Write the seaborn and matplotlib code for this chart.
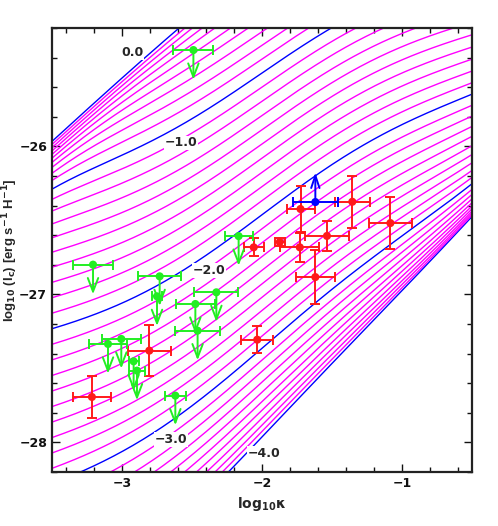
import numpy as np
import pandas as pd
import matplotlib
matplotlib.use("Agg")
import matplotlib.pyplot as plt
from matplotlib.ticker import MultipleLocator
import seaborn as sns

# contour levels: log10 of the star formation rate per unit area
psi_levels = np.round(np.linspace(0.0, -4.0, 41), 1)
label_levels = ["0.0", "\u22121.0", "\u22122.0", "\u22123.0", "\u22124.0"]
label_x = [-2.926, -2.577, -2.376, -2.650, -1.982]
label_y = [-25.367, -25.977, -26.838, -27.982, -28.076]

# red: detections
red_x = [-3.215, -2.805, -2.034, -2.059, -1.873, -1.725, -1.730, -1.536, -1.619, -1.355, -1.083]
red_xerr = [0.133, 0.155, 0.113, 0.07, 0.035, 0.10, 0.14, 0.156, 0.14, 0.125, 0.156]
red_y = [-27.693, -27.380, -27.306, -26.682, -26.646, -26.423, -26.682, -26.605, -26.883, -26.374, -26.518]
red_yerr = [0.145, 0.17, 0.093, 0.06, 0.03, 0.157, 0.10, 0.10, 0.18, 0.177, 0.174]

# green: upper limits
green_x = [-2.490, -3.207, -2.731, -2.750, -2.326, -2.476, -2.460, -3.100, -3.005, -2.917, -2.893, -2.619, -2.167]
green_xerr = [0.143, 0.143, 0.155, 0.035, 0.157, 0.14, 0.16, 0.136, 0.14, 0.036, 0.057, 0.073, 0.10]
green_y = [-25.349, -26.799, -26.878, -27.013, -26.986, -27.065, -27.245, -27.335, -27.301, -27.452, -27.515, -27.684, -26.606]

# blue: lower limit
blue_x = [-1.619]
blue_xerr = [0.162]
blue_y = [-26.376]

limit_len = 0.2

# model parameters for the l_c(kappa, psi) curves
y_m2_left = -27.232
slope_base, bump_amp, bump_x, bump_w = 0.2, 0.5, -2.0, 1.1
s_left, s_grad = 1.06, 0.06
up_left, up_slope, up_psi = -25.965, 0.87, 0.2
sharp = 2.5
floor_right, floor_slope = -26.52, 1.09

RED = "#ff1a1a"
GREEN = "#22ee22"
BLUE = "#0000ff"
MAGENTA = "#ff00ff"


def model_curve(psi, logk):
    dk = logk - logk[0]
    slope = slope_base + bump_amp * np.exp(-((logk - bump_x) / bump_w) ** 2)
    shape = np.concatenate([[0.0], np.cumsum(0.5 * (slope[1:] + slope[:-1]) * np.diff(logk))])
    s = s_left - s_grad * dk
    lin = y_m2_left + shape + s * (psi + 2)
    upper = up_left + up_slope * dk + up_psi * psi
    sat = -np.log10(10.0 ** (-sharp * lin) + 10.0 ** (-sharp * upper)) / sharp
    floor = floor_right + floor_slope * (logk + 0.5)
    return np.log10(10.0 ** sat + 10.0 ** floor)


logk = np.linspace(-3.5, -0.5, 301)
frames = []
for psi in psi_levels:
    frames.append(pd.DataFrame({"logk": logk, "loglc": model_curve(psi, logk), "psi": psi}))
curves = pd.concat(frames, ignore_index=True)
palette = {p: (BLUE if abs(p - round(p)) < 1e-6 else MAGENTA) for p in psi_levels}

sns.set_style("ticks")
plt.rcParams["font.family"] = ["DejaVu Sans"]
plt.rcParams["font.weight"] = "bold"
plt.rcParams["mathtext.fontset"] = "dejavusans"
plt.rcParams["mathtext.default"] = "bf"

fig = plt.figure(figsize=(4.98, 5.26), dpi=100)
ax = fig.add_axes([52 / 498, 1 - 472 / 526, 420 / 498, 444 / 526])

sns.lineplot(data=curves, x="logk", y="loglc", hue="psi", units="psi", estimator=None,
             palette=palette, legend=False, sort=False, linewidth=1.0, ax=ax, zorder=1)

for txt, lx, ly in zip(label_levels, label_x, label_y):
    ax.text(lx, ly, txt, fontsize=9, fontweight="bold", ha="center", va="center", zorder=3,
            bbox=dict(facecolor="white", edgecolor="none", pad=0.5))

eb = dict(fmt="none", capsize=3.5, elinewidth=1.4, capthick=1.4, zorder=4)
ax.errorbar(red_x, red_y, xerr=red_xerr, yerr=red_yerr, ecolor=RED, **eb)
ax.errorbar(green_x, green_y, xerr=green_xerr, ecolor=GREEN, **eb)
ax.errorbar(blue_x, blue_y, xerr=blue_xerr, ecolor=BLUE, **eb)

for gx, gy in zip(green_x, green_y):
    ax.annotate("", xy=(gx, gy - limit_len), xytext=(gx, gy), zorder=4,
                arrowprops=dict(arrowstyle="->,head_length=0.65,head_width=0.25", color=GREEN,
                                lw=1.4, shrinkA=0, shrinkB=0, mutation_scale=15))
for bx, by in zip(blue_x, blue_y):
    ax.annotate("", xy=(bx, by + limit_len), xytext=(bx, by), zorder=4,
                arrowprops=dict(arrowstyle="->,head_length=0.6,head_width=0.2", color=BLUE,
                                lw=1.4, shrinkA=0, shrinkB=0, mutation_scale=15))

sns.scatterplot(x=red_x, y=red_y, color=RED, s=34, edgecolor="none", ax=ax, zorder=5)
sns.scatterplot(x=green_x, y=green_y, color=GREEN, s=34, edgecolor="none", ax=ax, zorder=5)
sns.scatterplot(x=blue_x, y=blue_y, color=BLUE, s=34, edgecolor="none", ax=ax, zorder=5)

ax.set_xlim(-3.5, -0.5)
ax.set_ylim(-28.2, -25.2)
ax.xaxis.set_major_locator(MultipleLocator(1))
ax.xaxis.set_minor_locator(MultipleLocator(0.2))
ax.yaxis.set_major_locator(MultipleLocator(1))
ax.yaxis.set_minor_locator(MultipleLocator(0.2))
ax.tick_params(which="both", direction="in", top=True, right=True, labelsize=9, width=1.0,
               colors="#111111")
ax.tick_params(which="major", length=6)
ax.tick_params(which="minor", length=3.5)
for spine in ax.spines.values():
    spine.set_linewidth(1.6)
    spine.set_color("#222222")

ax.set_xlabel("log$_{10}$\u03ba", fontsize=10, fontweight="bold", labelpad=4)
ax.set_ylabel("log$_{10}$ (l$_c$) [erg s$^{-1}$ H$^{-1}$]", fontsize=9.5, fontweight="bold",
              fontfamily="Liberation Sans")
ax.yaxis.set_label_coords(-0.076, 0.5)

fig.savefig("out.png", dpi=100)
